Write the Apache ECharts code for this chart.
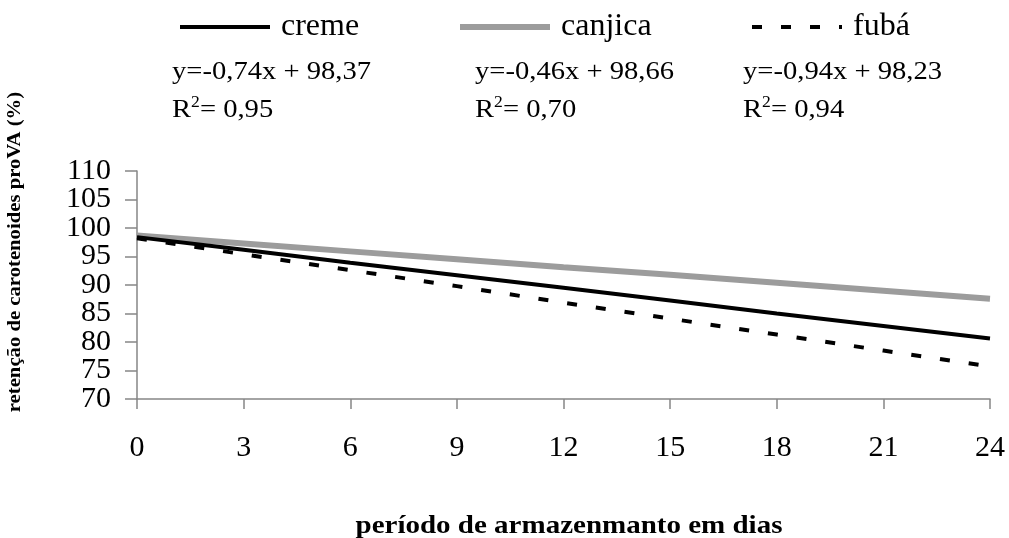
<!DOCTYPE html>
<html>
<head>
<meta charset="utf-8">
<script src="https://cdn.jsdelivr.net/npm/echarts@6/dist/echarts.min.js"></script>
<style>
html,body{margin:0;padding:0;background:#fff;}
#c{width:1009px;height:538px;}
</style>
</head>
<body>
<div id="c"></div>
<script>
// ---- data ----
var days = [0, 3, 6, 9, 12, 15, 18, 21, 24];
var creme = [98.4, 96.2, 93.9, 91.7, 89.5, 87.3, 85.0, 82.8, 80.6];
var canjica = [98.7, 97.3, 95.9, 94.5, 93.1, 91.8, 90.4, 89.0, 87.6];
var fuba = [98.2, 95.4, 92.6, 89.8, 86.9, 84.1, 81.3, 78.5, 75.7];
var seriesNames = ['creme', 'canjica', 'fubá'];
var yTicksA = [70, 80, 90, 100, 110];
var yTicksB = [75, 85, 95, 105];
var equations = ['y=-0,74x + 98,37', 'y=-0,46x + 98,66', 'y=-0,94x + 98,23'];
var r2 = ['0,95', '0,70', '0,94'];
var yTitle = 'retenção de carotenoides proVA (%)';
var xTitle = 'período de armazenmanto em dias';

var FONT = '"Liberation Serif", "Times New Roman", serif';
var SX = 1.1; // horizontal stretch of the reference text
function pairs(arr){ return days.map(function(d,i){ return [d, arr[i]]; }); }

var chart = echarts.init(document.getElementById('c'), null, {renderer:'canvas'});

var eqLeft = [172, 475, 743];
var graphics = [];
for (var i = 0; i < 3; i++) {
  graphics.push({type: 'text', x: eqLeft[i], y: 72, scaleX: SX,
    style: {text: equations[i], fontFamily: FONT, fontSize: 26, fill: '#000', align: 'left', verticalAlign: 'middle'}});
  graphics.push({type: 'text', x: eqLeft[i], y: 110, scaleX: SX,
    style: {text: 'R{s|2}= ' + r2[i], fontFamily: FONT, fontSize: 26, fill: '#000', align: 'left', verticalAlign: 'middle',
      lineHeight: 30,
      rich: {s: {fontFamily: FONT, fontSize: 16, fill: '#000', verticalAlign: 'top', lineHeight: 30, padding: [0,0,12,0]}}}});
}
graphics.push({type: 'text', x: 15, y: 252, rotation: Math.PI/2, scaleX: 1.15,
  style: {text: yTitle, fontFamily: FONT, fontSize: 18, fontWeight: 'bold', fill: '#000', align: 'center', verticalAlign: 'middle'}});
graphics.push({type: 'text', x: 569, y: 527, scaleX: 1.16,
  style: {text: xTitle, fontFamily: FONT, fontSize: 25, fontWeight: 'bold', fill: '#000', align: 'center', verticalAlign: 'middle'}});

var legendLeft = [178, 457, 750];
var legendStyles = [
  {color: '#000', width: 4, type: 'solid'},
  {color: '#9c9c9c', width: 6, type: 'solid'},
  {color: '#000', width: 4, type: [10, 19]}
];
var legends = seriesNames.map(function(n, i){
  return {
    show: true,
    data: [n], left: legendLeft[i], top: 11, padding: 0,
    itemWidth: 90, itemHeight: 16,
    selectedMode: false,
    itemStyle: {color: 'rgba(0,0,0,0)', borderColor: 'rgba(0,0,0,0)', borderWidth: 0},
    lineStyle: legendStyles[i],
    textStyle: {fontFamily: FONT, fontSize: 32, color: '#000', padding: [0,0,0,6]}
  };
});

var yLabelStyle = {fontFamily: FONT, fontSize: 30, color: '#000', margin: 26, hideOverlap: false};

var option = {
  backgroundColor: '#fff',
  animation: false,
  legend: legends,
  grid: {left: 137, right: 19, top: 171, bottom: 139, containLabel: false},
  xAxis: {
    type: 'value', min: 0, max: 24, interval: 3,
    axisLine: {show: true, lineStyle: {color: '#868686', width: 1.5}},
    axisTick: {show: true, inside: false, length: 10, lineStyle: {color: '#868686', width: 1.5}},
    axisLabel: {fontFamily: FONT, fontSize: 30, color: '#000', margin: 34, showMinLabel: true, showMaxLabel: true},
    splitLine: {show: false}
  },
  yAxis: [
    {
      type: 'value', min: 70, max: 110, interval: 5, position: 'left',
      axisLine: {show: true, lineStyle: {color: '#868686', width: 1.5}},
      axisTick: {show: true, inside: false, length: 12, lineStyle: {color: '#868686', width: 1.5}},
      axisLabel: Object.assign({customValues: yTicksA}, yLabelStyle),
      splitLine: {show: false}
    },
    {
      type: 'value', min: 70, max: 110, interval: 5, position: 'left', offset: 0,
      axisLine: {show: false},
      axisTick: {show: false},
      axisLabel: Object.assign({customValues: yTicksB}, yLabelStyle),
      splitLine: {show: false}
    }
  ],
  series: [
    {name: seriesNames[0], type: 'line', data: pairs(creme), symbol: 'none', z: 3,
     itemStyle: {color: '#000'},
     lineStyle: {color: '#000', width: 4}},
    {name: seriesNames[1], type: 'line', data: pairs(canjica), symbol: 'none', z: 2,
     itemStyle: {color: '#9c9c9c'},
     lineStyle: {color: '#9c9c9c', width: 6}},
    {name: seriesNames[2], type: 'line', data: pairs(fuba), symbol: 'none', z: 3,
     itemStyle: {color: '#000'},
     lineStyle: {color: '#000', width: 4, type: [10, 19]}}
  ],
  graphic: graphics
};
chart.setOption(option);
</script>
</body>
</html>
